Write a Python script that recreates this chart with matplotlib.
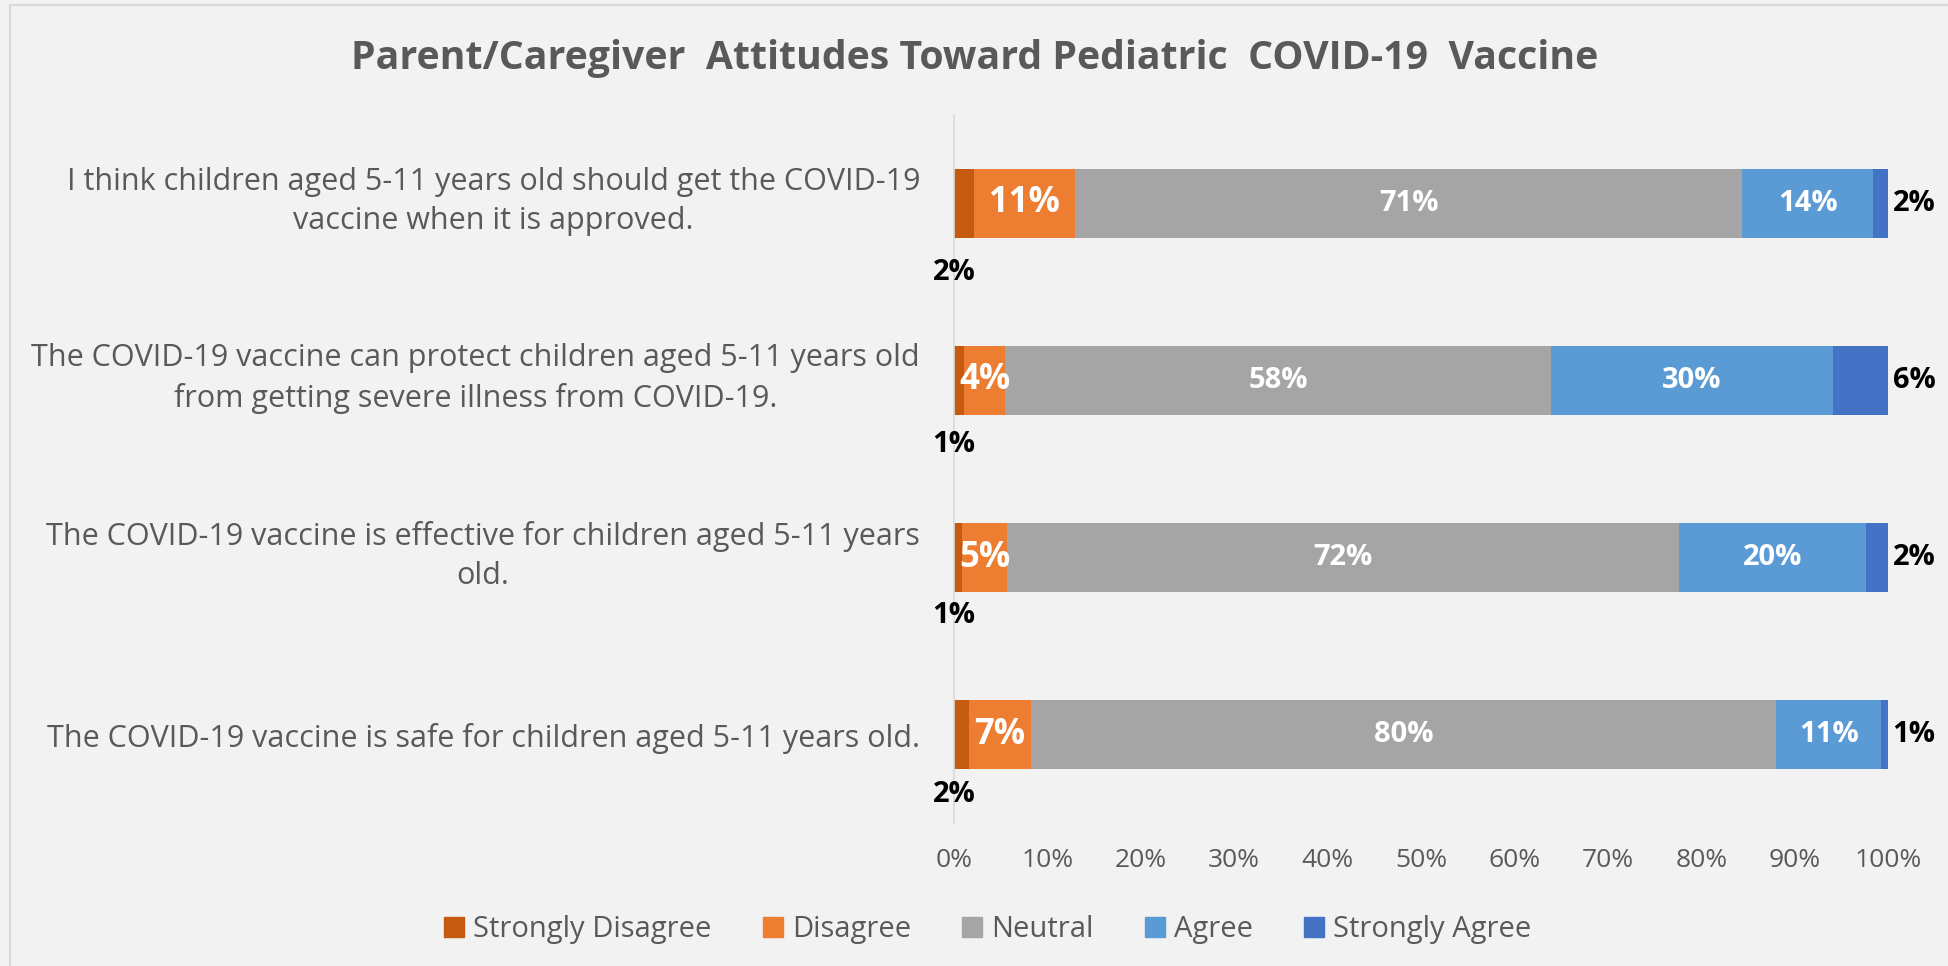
import numpy as np
import matplotlib.pyplot as plt
from matplotlib.lines import Line2D
from matplotlib.transforms import ScaledTranslation

plt.rcParams['font.family'] = ['Open Sans', 'DejaVu Sans']

# Data (percent of respondents)
statements = [
    "I think children aged 5-11 years old should get the COVID-19\nvaccine when it is approved.",
    "The COVID-19 vaccine can protect children aged 5-11 years old\nfrom getting severe illness from COVID-19.",
    "The COVID-19 vaccine is effective for children aged 5-11 years\nold.",
    "The COVID-19 vaccine is safe for children aged 5-11 years old.",
]
responses = ["Strongly Disagree", "Disagree", "Neutral", "Agree", "Strongly Agree"]
strongly_disagree = [2.1, 1.1, 0.9, 1.6]
disagree = [10.9, 4.4, 4.8, 6.6]
neutral = [71.4, 58.4, 71.9, 79.8]
agree = [14.0, 30.2, 20.0, 11.3]
strongly_agree = [1.6, 5.9, 2.4, 0.7]
labels_sd = ["2%", "1%", "1%", "2%"]
labels_d = ["11%", "4%", "5%", "7%"]
labels_n = ["71%", "58%", "72%", "80%"]
labels_a = ["14%", "30%", "20%", "11%"]
labels_sa = ["2%", "6%", "2%", "1%"]

colors = ["#C55A11", "#ED7D31", "#A5A5A5", "#5B9BD5", "#4472C4"]
bg = "#F2F2F2"
grey_text = "#595959"

fig = plt.figure(figsize=(19.49, 9.66), dpi=100, facecolor=bg)
ax = fig.add_axes([0.4895, 0.148, 0.4792, 0.733])
ax.set_facecolor(bg)

y = np.arange(len(statements))
series = [strongly_disagree, disagree, neutral, agree, strongly_agree]
left = np.zeros(len(statements))
bars = []
for vals, col, name in zip(series, colors, responses):
    ax.barh(y, vals, left=left, height=0.395, color=col, label=name)
    bars.append((left.copy(), np.array(vals)))
    left += np.array(vals)

# segment labels (strongly disagree labels sit below each bar)
sd_offset = [0.39, 0.36, 0.33, 0.34]
for i in range(len(statements)):
    ax.text(0, y[i] + sd_offset[i], labels_sd[i], ha='center', va='center',
            fontsize=21, fontweight='bold', color='black')
    d_left, d_w = bars[1][0][i], bars[1][1][i]
    ax.text(d_left + d_w / 2, y[i], labels_d[i], ha='center', va='center',
            fontsize=25, fontweight='bold', color='white')
    for k, labs in ((2, labels_n), (3, labels_a)):
        l0, w = bars[k][0][i], bars[k][1][i]
        ax.text(l0 + w / 2, y[i], labs[i], ha='center', va='center',
                fontsize=21, fontweight='bold', color='white')
    ax.text(left[i] + 0.5, y[i], labels_sa[i], ha='left', va='center',
            fontsize=21, fontweight='bold', color='black')

ax.set_xlim(0, 100)
ax.set_ylim(3.5, -0.5)
ax.set_xticks(np.arange(0, 101, 10))
ax.set_xticklabels([f"{v}%" for v in range(0, 101, 10)])
ax.set_yticks(y)
ax.set_yticklabels(statements, multialignment='center', linespacing=1.4)
ax.tick_params(axis='x', length=0, pad=18, labelsize=19, labelcolor=grey_text)
ax.tick_params(axis='y', length=0, pad=24.5, labelsize=22, labelcolor=grey_text)
# nudge two-line labels up a little
for lab in ax.get_yticklabels():
    if "\n" in lab.get_text():
        lab.set_transform(lab.get_transform() +
                          ScaledTranslation(0, 0.10, fig.dpi_scale_trans))
for s in ('top', 'right', 'bottom'):
    ax.spines[s].set_visible(False)
ax.spines['left'].set_color('#D9D9D9')
ax.spines['left'].set_linewidth(1.2)

fig.suptitle("Parent/Caregiver  Attitudes Toward Pediatric  COVID-19  Vaccine",
             x=0.5, y=0.939, va='center', fontsize=28.3, fontweight='bold',
             color=grey_text)

handles = [Line2D([], [], marker='s', linestyle='none', markersize=14.4,
                  markerfacecolor=c, markeredgecolor=c) for c in colors]
fig.legend(handles, responses, loc='center', bbox_to_anchor=(0.5067, 0.038),
           ncol=5, frameon=False, fontsize=21, labelcolor=grey_text,
           handletextpad=0.3, columnspacing=1.75, handlelength=0.7)

# chart-area border (top and left edges only visible)
fig.add_artist(Line2D([10 / 1949, 10 / 1949], [0, 1 - 5 / 966],
                      transform=fig.transFigure, color='#D9D9D9', linewidth=1.5))
fig.add_artist(Line2D([10 / 1949, 1], [1 - 5 / 966, 1 - 5 / 966],
                      transform=fig.transFigure, color='#D9D9D9', linewidth=1.5))

fig.savefig("out.png", dpi=100, facecolor=bg)
